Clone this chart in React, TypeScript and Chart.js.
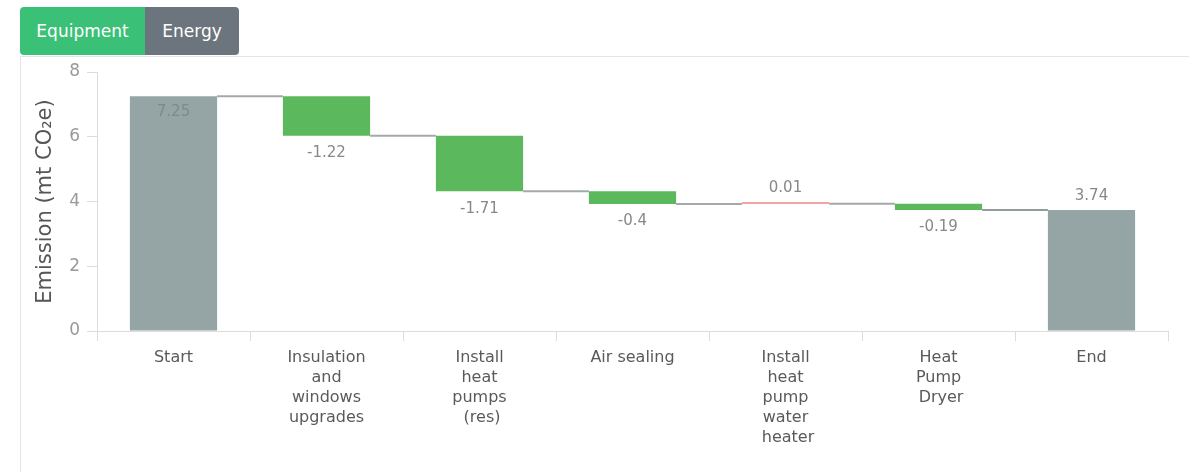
import { useEffect, useRef } from "react";
import { Chart, registerables } from "chart.js";

Chart.register(...registerables);

const categories: string[][] = [
  ["Start"],
  ["Insulation", "and", "windows", "upgrades"],
  ["Install", "heat", "pumps", " (res)"],
  ["Air sealing"],
  ["Install", "heat", "pump", "water", " heater"],
  ["Heat", "Pump", " Dryer"],
  ["End"],
];
const startValue = 7.25;
const deltas = [-1.22, -1.71, -0.4, 0.01, -0.19];
const endValue = 3.74;
const yTicks = [0, 2, 4, 6, 8];
const yTitle = "Emission (mt CO\u2082e)";

const FONT = "'DejaVu Sans', Verdana, sans-serif";
const GRAY = "#95a5a6";
const GREEN = "#5cb85c";
const PINK = "#f2a3a3";

// derived waterfall ranges
const ranges: [number, number][] = [];
const levels: number[] = [];
const labelValues: number[] = [];
{
  ranges.push([0, startValue]);
  labelValues.push(startValue);
  let cur = startValue;
  levels.push(cur);
  for (const d of deltas) {
    const next = Math.round((cur + d) * 100) / 100;
    ranges.push([cur, next]);
    labelValues.push(d);
    cur = next;
    levels.push(cur);
  }
  ranges.push([0, endValue]);
  labelValues.push(endValue);
}
const colors = labelValues.map((v, i) =>
  i === 0 || i === labelValues.length - 1 ? GRAY : v < 0 ? GREEN : PINK
);

const waterfallPlugin = {
  id: "waterfall",
  afterDatasetsDraw(chart: any) {
    const meta = chart.getDatasetMeta(0);
    const ys = chart.scales.y;
    const ctx = chart.ctx;
    const area = chart.chartArea;
    ctx.save();
    for (let i = 0; i < meta.data.length - 1; i++) {
      const a = meta.data[i];
      const b = meta.data[i + 1];
      const py = ys.getPixelForValue(levels[i]);
      const last = i === meta.data.length - 2;
      ctx.strokeStyle = last ? "#6f7b7b" : "#a3a8a8";
      ctx.lineWidth = last ? 1.5 : 2;
      ctx.beginPath();
      ctx.moveTo(a.x + a.width / 2, py);
      ctx.lineTo(b.x - b.width / 2, py);
      ctx.stroke();
    }
    ctx.font = `15px ${FONT}`;
    ctx.textAlign = "center";
    ctx.textBaseline = "middle";
    meta.data.forEach((el: any, i: number) => {
      const v = labelValues[i];
      const top = Math.min(el.y, el.base);
      const bottom = Math.max(el.y, el.base);
      let y: number;
      let inside = false;
      if (v >= 0) {
        y = top - 14;
        if (y - 20 < area.top) {
          y = top + 16;
          inside = true;
        }
      } else {
        y = bottom + 17.5;
      }
      ctx.fillStyle = inside ? "#7d8a8a" : "#888";
      ctx.fillText(String(v), el.x, y);
    });
    ctx.restore();
  },
};

export default function App() {
  const ref = useRef<HTMLCanvasElement | null>(null);
  useEffect(() => {
    if (!ref.current) return;
    const chart = new Chart(ref.current, {
      type: "bar",
      data: {
        labels: categories,
        datasets: [
          {
            data: ranges as any,
            backgroundColor: colors,
            borderWidth: 0,
            barPercentage: 0.57,
            categoryPercentage: 1,
            minBarLength: 2,
          },
        ],
      },
      options: {
        responsive: false,
        animation: false,
        layout: { padding: { top: 15, right: 21, left: 0, bottom: 0 } },
        plugins: { legend: { display: false }, tooltip: { enabled: false } },
        scales: {
          x: {
            grid: {
              offset: true,
              drawOnChartArea: false,
              drawTicks: true,
              tickLength: 10,
              color: "#dcdcdc",
            },
            border: { color: "#dcdcdc" },
            ticks: {
              font: { family: FONT, size: 16, lineHeight: 1.25 },
              color: "#5a5a5a",
              padding: 7,
              maxRotation: 0,
              autoSkip: false,
            },
            afterFit: (s: any) => {
              s.height = 141;
              s.paddingLeft = 0;
              s.paddingRight = 0;
            },
          },
          y: {
            min: 0,
            max: 8,
            afterBuildTicks: (s: any) => {
              s.ticks = yTicks.map((v) => ({ value: v }));
            },
            grid: {
              drawOnChartArea: false,
              drawTicks: true,
              tickLength: 10,
              color: "#dcdcdc",
            },
            border: { color: "#dcdcdc" },
            ticks: {
              font: { family: FONT, size: 17 },
              color: "#999",
              padding: 7,
            },
            title: {
              display: true,
              text: yTitle,
              font: { family: FONT, size: 21, lineHeight: 1.2 },
              color: "#555",
              padding: { top: 12, bottom: 0 },
            },
            afterFit: (s: any) => {
              s.width = 76;
              s.paddingTop = 0;
              s.paddingBottom = 0;
            },
          },
        },
      },
      plugins: [waterfallPlugin],
    });
    return () => chart.destroy();
  }, []);

  const tabBase: any = {
    height: 48,
    color: "#fff",
    display: "flex",
    alignItems: "center",
    justifyContent: "center",
    fontFamily: FONT,
    fontSize: 17,
  };

  return (
    <div style={{ position: "fixed", inset: 0, overflow: "hidden", background: "#fff" }}>
      <div style={{ position: "absolute", left: 20, top: 7, display: "flex" }}>
        <div style={{ ...tabBase, width: 125, background: "#3bc177", borderRadius: "4px 0 0 4px" }}>
          Equipment
        </div>
        <div style={{ ...tabBase, width: 94, background: "#6c757d", borderRadius: "0 4px 4px 0" }}>
          Energy
        </div>
      </div>
      <div
        style={{
          position: "absolute",
          left: 20,
          top: 56,
          right: 0,
          bottom: 0,
          borderTop: "1px solid #e4e4e4",
          borderLeft: "1px solid #e4e4e4",
        }}
      >
        <canvas ref={ref} width={1168} height={415} style={{ display: "block", width: 1168, height: 415 }} />
      </div>
    </div>
  );
}
